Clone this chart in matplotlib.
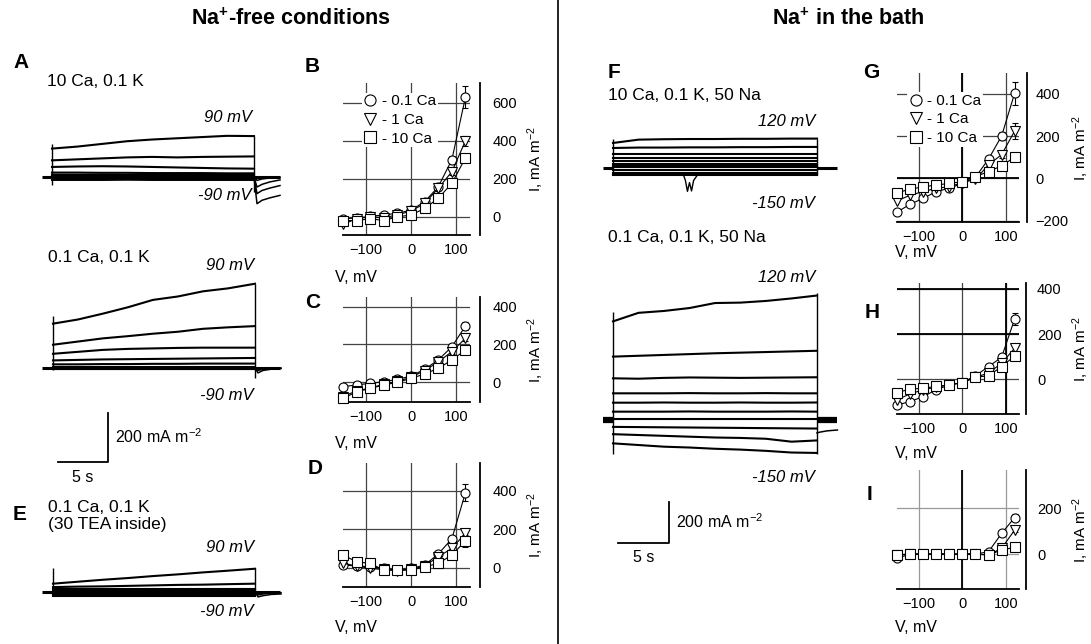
import numpy as np
import matplotlib
matplotlib.use("Agg")
import matplotlib.pyplot as plt
from matplotlib.lines import Line2D

plt.rcParams["font.family"] = ["Liberation Sans", "DejaVu Sans"]
plt.rcParams["mathtext.fontset"] = "custom"
plt.rcParams["mathtext.rm"] = "Liberation Sans"
plt.rcParams["mathtext.it"] = "Liberation Sans:italic"
plt.rcParams["mathtext.bf"] = "Liberation Sans:bold"
plt.rcParams["mathtext.default"] = "regular"

# ── 1. DATA ──────────────────────────────────────────────────────────────────
# I-V curves: test voltages (mV) and mean currents (mA m-2)
V = [-150, -120, -90, -60, -30, 0, 30, 60, 90, 120]

B_01 = [-10, -7, 2, 10, 18, 35, 79, 158, 300, 630]
B_1 = [-40, -10, 0, -5, 10, 30, 70, 150, 237, 400]
B_10 = [-20, -20, -10, -20, 0, 9, 44, 97, 176, 310]
B_ERR = [[0, 0, 0, 0, 0, 0, 0, 0, 20, 60], [0, 0, 0, 0, 0, 0, 0, 0, 15, 25],
         [0, 0, 0, 0, 0, 0, 0, 0, 0, 15]]

C_01 = [-23, -14, -5, 3, 16, 33, 69, 118, 188, 298]
C_1 = [-75, -45, -30, -10, 5, 27, 62, 108, 162, 233]
C_10 = [-85, -50, -32, -14, 0, 21, 44, 74, 118, 171]
C_ERR = [[0, 0, 0, 0, 0, 0, 0, 0, 12, 22], [0, 0, 0, 0, 0, 0, 0, 0, 10, 15],
         [0, 0, 0, 0, 0, 0, 0, 0, 0, 0]]

D_01 = [14, 9, 5, -4, -12, -4, 14, 71, 150, 390]
D_1 = [23, 9, -4, -9, -15, -9, 9, 57, 100, 179]
D_10 = [66, 31, 22, -12, -12, -12, 5, 22, 66, 139]
D_ERR = [[0, 0, 0, 0, 0, 0, 0, 0, 15, 42], [0, 0, 0, 0, 0, 0, 0, 0, 12, 20],
         [0, 0, 0, 0, 0, 0, 0, 0, 0, 30]]

G_01 = [-160, -123, -95, -63, -47, -24, 5, 91, 200, 403]
G_1 = [-107, -80, -63, -47, -40, -20, -5, 64, 112, 224]
G_10 = [-68, -52, -40, -32, -24, -16, 8, 32, 59, 100]
G_ERR = [[0, 0, 0, 0, 0, 0, 0, 0, 20, 55], [0, 0, 0, 0, 0, 0, 0, 0, 15, 40],
         [0, 0, 0, 0, 0, 0, 0, 0, 0, 8]]

H_01 = [-114, -99, -77, -47, -25, -15, 15, 56, 97, 267]
H_1 = [-91, -65, -47, -35, -25, -15, 9, 27, 71, 137]
H_10 = [-59, -44, -40, -32, -25, -15, 9, 15, 56, 103]
H_ERR = [[0, 0, 0, 0, 0, 0, 0, 0, 10, 25], [0, 0, 0, 0, 0, 0, 0, 0, 8, 15],
         [0, 0, 0, 0, 0, 0, 0, 0, 0, 8]]

I_01 = [-19, 0, 0, 0, 0, 0, 0, 10, 90, 160]
I_1 = [-4, 0, 0, 0, 0, 0, 0, -4, 25, 105]
I_10 = [-4, 0, 0, 0, 0, 0, 0, -4, 18, 29]
I_ERR = [[0, 0, 0, 0, 0, 0, 0, 0, 0, 15], [0, 0, 0, 0, 0, 0, 0, 0, 0, 8],
         [0, 0, 0, 0, 0, 0, 0, 0, 0, 0]]

LEGEND_LABELS = ["- 0.1 Ca", "- 1 Ca", "- 10 Ca"]

# Current traces: sample times during the 20 s step (s) and currents (mA m-2)
T_STEP = [0, 2.5, 5, 7.5, 10, 12.5, 15, 17.5, 20.2]
T_TAIL = [20.2, 20.5, 21.0, 21.8, 22.8]

A1_STEPS = [
    [116, 124, 135, 146, 153, 158, 163, 168, 167],
    [68, 72, 76, 80, 82, 80, 82, 83, 84],
    [41, 43, 44, 43, 41, 39, 37, 35, 34],
    [18, 18, 17, 17, 16, 16, 16, 15, 15],
    [9, 9, 9, 8, 9, 9, 8, 9, 9],
    [4, 4, 4, 4, 4, 4, 4, 4, 4],
    [-4, -4, -3, -4, -4, -4, -3, -4, -4],
    [-8, -8, -8, -8, -8, -8, -8, -8, -8],
    [-12, -12, -12, -11, -12, -12, -12, -12, -12],
]
A1_TAILS = [[0, -14, -8, -4, -2], [0, -41, -30, -20, -12],
            [0, -68, -55, -45, -35], [0, -109, -95, -85, -75]]
A1_EDGES = [[-33, 135], [-60, 168]]

A2_STEPS = [
    [181, 198, 222, 248, 278, 292, 313, 325, 344],
    [95, 108, 121, 130, 140, 148, 160, 166, 171],
    [58, 66, 74, 78, 80, 82, 83, 83, 83],
    [31, 33, 35, 36, 37, 38, 39, 40, 41],
    [15, 15, 16, 16, 17, 17, 18, 18, 18],
    [6, 6, 6, 6, 6, 6, 6, 6, 6],
    [2, 2, 2, 2, 2, 2, 2, 2, 2],
    [-3, -3, -3, -3, -3, -3, -3, -3, -3],
    [-6, -6, -6, -6, -6, -6, -6, -6, -6],
]
A2_TAILS = [[0, -20, -10, -5, -2], [0, -10, -5, -3, 0]]
A2_EDGES = [[-10, 212], [-41, 344]]

E_STEPS = [
    [34, 42, 50, 57, 65, 72, 80, 87, 95],
    [20, 22, 23, 25, 27, 29, 30, 32, 34],
    [12, 12, 12, 12, 12, 12, 12, 12, 12],
    [6, 6, 6, 6, 6, 6, 6, 6, 6],
    [2, 2, 2, 2, 2, 2, 2, 2, 2],
    [-4, -4, -4, -4, -4, -4, -4, -4, -4],
    [-8, -8, -8, -8, -8, -8, -8, -8, -8],
    [-12, -12, -12, -12, -12, -12, -12, -12, -12],
    [-16, -16, -16, -16, -16, -16, -16, -16, -16],
]
E_TAILS = [[0, -20, -15, -10, -8], [0, -12, -8, -5, -3]]
E_EDGES = [[0, 97], [-8, 97]]

T_STEP_F = [0, 2.5, 5, 7.5, 10, 12.5, 15, 17.5, 20]
T_TAIL_F = [20, 20.3, 21, 22]

F1_STEPS = [
    [120, 136, 138, 139, 139, 140, 140, 141, 141],
    [96, 98, 98, 99, 99, 100, 100, 101, 101],
    [67, 67, 67, 67, 67, 67, 67, 67, 67],
    [48, 48, 48, 48, 48, 48, 48, 48, 48],
    [32, 32, 32, 32, 32, 32, 32, 32, 32],
    [21, 21, 21, 21, 21, 21, 21, 21, 21],
    [11, 11, 11, 11, 11, 11, 11, 11, 11],
    [4, 4, 4, 4, 4, 4, 4, 4, 4],
    [-11, -11, -11, -11, -11, -11, -11, -11, -11],
    [-22, -22, -22, -22, -22, -22, -22, -22, -22],
    [-32, -32, -32, -32, -32, -32, -32, -32, -32],
]
F1_SPIKE_T = [6.9, 7.1, 7.3, 7.5, 7.7, 7.9, 8.3]
F1_SPIKE_I = [-32, -60, -112, -70, -110, -60, -32]
F1_EDGES = [[-25, 138], [-33, 141]]

F2_STEPS = [
    [473, 514, 523, 537, 561, 563, 571, 583, 597],
    [304, 308, 312, 316, 320, 323, 326, 329, 332],
    [200, 198, 202, 204, 203, 202, 203, 204, 205],
    [128, 128, 128, 129, 128, 128, 129, 128, 128],
    [83, 83, 84, 83, 83, 84, 83, 83, 84],
    [40, 40, 40, 41, 40, 40, 40, 41, 40],
    [6, 6, 6, 6, 6, 6, 6, 6, 6],
    [-33, -34, -35, -36, -37, -38, -39, -40, -41],
    [-68, -72, -76, -80, -84, -86, -90, -104, -98],
    [-112, -120, -128, -132, -138, -142, -148, -156, -158],
]
F2_TAILS = [[-62, -58, -52, -48]]
F2_EDGES = [[-162, 520], [-162, 610]]

# ── 2. FIGURE ────────────────────────────────────────────────────────────────
W, H = 1091, 644
fig = plt.figure(figsize=(W / 100, H / 100), dpi=100)


def box(x0, y0, x1, y1):
    return [x0 / W, 1 - y1 / H, (x1 - x0) / W, (y1 - y0) / H]


def ftext(x, y, s, **kw):
    kw.setdefault("fontsize", 12)
    kw.setdefault("va", "center")
    fig.text(x / W, 1 - y / H, s, **kw)


def trace_axes(x0, y0, x1, y1, ox, oy, sx, sy):
    # pixel box, pixel origin (t=0, I=0) and scale (px per s, px per mA m-2)
    ax = fig.add_axes(box(x0, y0, x1, y1))
    ax.set_xlim((x0 - ox) / sx, (x1 - ox) / sx)
    ax.set_ylim((oy - y1) / sy, (oy - y0) / sy)
    ax.axis("off")
    return ax


def draw_traces(ax, t, steps, t_tail, tails, edges, t_pre, t_post, lw_hold=2.2):
    ax.plot([t_pre, t[0]], [0, 0], color="k", lw=lw_hold, solid_capstyle="butt")
    ax.plot([t[-1], t_post], [0, 0], color="k", lw=lw_hold, solid_capstyle="butt")
    for s in steps:
        ax.plot(t, s, color="k", lw=1.5)
    for tl in tails:
        ax.plot(t_tail, tl, color="k", lw=1.1)
    ax.vlines([t[0], t[-1]], [edges[0][0], edges[1][0]], [edges[0][1], edges[1][1]],
              color="k", lw=1.0)


# separator and titles
fig.add_artist(Line2D([557.5 / W] * 2, [0, 1], color="k", lw=1.2))
ftext(291, 19, r"Na$^\mathbf{+}$-free conditions", fontsize=15.5, fontweight="bold", ha="center")
ftext(848, 19, r"Na$^\mathbf{+}$ in the bath", fontsize=15.5, fontweight="bold", ha="center")

# panel letters
for x, y, s in [(13, 63, "A"), (305, 67, "B"), (305, 303, "C"), (308, 468, "D"),
                (13, 514, "E"), (608, 72, "F"), (863, 72, "G"), (865, 312, "H"),
                (867, 495, "I")]:
    ftext(x, y, s, fontsize=15, fontweight="bold")

# ── 3. TRACE PANELS (LEFT) ───────────────────────────────────────────────────
SX_L, SY_L = 10.0, 49 / 200
ax = trace_axes(30, 120, 290, 215, 52, 177, SX_L, SY_L)
draw_traces(ax, T_STEP, A1_STEPS, T_TAIL, A1_TAILS, A1_EDGES, -1.0, 22.8)
ftext(47, 82, "10 Ca, 0.1 K", fontsize=12.5)
ftext(252, 118, "90 mV", fontsize=12, style="italic", ha="right")
ftext(252, 195, "-90 mV", fontsize=12, style="italic", ha="right")

ax = trace_axes(30, 270, 290, 490, 53, 368, SX_L, SY_L)
draw_traces(ax, T_STEP, A2_STEPS, T_TAIL, A2_TAILS, A2_EDGES, -1.1, 22.7)
# scale bar: 200 mA m-2, 5 s
ax.plot([0.5, 5.5, 5.5], [-384, -384, -184], color="k", lw=1.3)
ftext(48, 257, "0.1 Ca, 0.1 K", fontsize=12.5)
ftext(254, 265, "90 mV", fontsize=12, style="italic", ha="right")
ftext(254, 395, "-90 mV", fontsize=12, style="italic", ha="right")
ftext(115, 437, "200 mA m$^{-2}$", fontsize=11.5)
ftext(72, 477, "5 s", fontsize=11.5)

ax = trace_axes(30, 540, 290, 620, 53, 592, SX_L, SY_L)
draw_traces(ax, T_STEP, E_STEPS, T_TAIL, E_TAILS, E_EDGES, -1.1, 22.7)
ftext(48, 508, "0.1 Ca, 0.1 K", fontsize=12.5)
ftext(48, 524, "(30 TEA inside)", fontsize=12.5)
ftext(254, 548, "90 mV", fontsize=12, style="italic", ha="right")
ftext(254, 612, "-90 mV", fontsize=12, style="italic", ha="right")

# ── 4. TRACE PANELS (RIGHT) ──────────────────────────────────────────────────
SX_R, SY_R = 10.2, 41.7 / 200
ax = trace_axes(595, 125, 850, 200, 613, 168, SX_R, SY_R)
draw_traces(ax, T_STEP_F, F1_STEPS, T_TAIL_F, [], F1_EDGES, -1.0, 22.0)
ax.plot(F1_SPIKE_T, F1_SPIKE_I, color="k", lw=1.0)
ftext(608, 95, "10 Ca, 0.1 K, 50 Na", fontsize=12.5)
ftext(815, 122, "120 mV", fontsize=12, style="italic", ha="right")
ftext(815, 203, "-150 mV", fontsize=12, style="italic", ha="right")

ax = trace_axes(595, 285, 850, 560, 613, 420, SX_R, SY_R)
draw_traces(ax, T_STEP_F, F2_STEPS, T_TAIL_F, F2_TAILS, F2_EDGES, -1.0, 22.0, lw_hold=4.5)
ax.plot([0.5, 5.5, 5.5], [-591, -591, -391], color="k", lw=1.3)
ftext(608, 238, "0.1 Ca, 0.1 K, 50 Na", fontsize=12.5)
ftext(815, 277, "120 mV", fontsize=12, style="italic", ha="right")
ftext(815, 477, "-150 mV", fontsize=12, style="italic", ha="right")
ftext(676, 522, "200 mA m$^{-2}$", fontsize=11.5)
ftext(633, 557, "5 s", fontsize=11.5)

# ── 5. I-V PANELS ────────────────────────────────────────────────────────────
MARKERS = ["o", "v", "s"]


def iv_panel(rect, ylim, yticks, series, errs, grid_color="#444444", spine_off=7,
             legend_at=None, ytick_pad=9, ylab_pad=6, dark_v=(), dark_h=()):
    ax = fig.add_axes(box(*rect))
    ax.set_xlim(-150, 130)
    ax.set_ylim(ylim)
    ax.spines["top"].set_visible(False)
    ax.spines["left"].set_visible(False)
    ax.spines["right"].set_position(("outward", spine_off))
    ax.spines["right"].set_linewidth(1.3)
    ax.spines["bottom"].set_linewidth(1.3)
    ax.yaxis.tick_right()
    ax.set_xticks([-100, 0, 100])
    ax.set_yticks(yticks)
    ax.tick_params(length=0, labelsize=10.5)
    ax.tick_params(axis="y", pad=ytick_pad)
    ax.tick_params(axis="x", pad=6)
    ax.grid(True, color=grid_color, lw=0.9)
    ax.set_axisbelow(True)
    for xv in dark_v:
        ax.axvline(xv, color="k", lw=1.3, zorder=1)
    for yv in dark_h:
        ax.axhline(yv, color="k", lw=1.3, zorder=1)
    v = np.array(V, dtype=float)
    for vals, err, m in zip(series, errs, MARKERS):
        vals = np.array(vals, dtype=float)
        err = np.array(err, dtype=float)
        ok = err > 0
        ax.errorbar(v[ok], vals[ok], yerr=err[ok], fmt="none", ecolor="k",
                    elinewidth=0.8, capsize=2.5, capthick=0.8, zorder=3)
        ax.plot(v, vals, color="k", lw=0.8, marker=m, ms=6.5, mfc="white",
                mec="k", mew=0.8, zorder=4, clip_on=False)
    ax.yaxis.set_label_position("right")
    ax.set_ylabel("I, mA m$^{-2}$", fontsize=11, labelpad=ylab_pad)
    if legend_at is not None:
        handles = [Line2D([], [], ls="none", marker=m, ms=8, mfc="white", mec="k",
                          mew=0.8) for m in MARKERS]
        leg = ax.legend(handles, LEGEND_LABELS, loc="upper left", bbox_to_anchor=legend_at,
                        fontsize=11, frameon=True, framealpha=1, edgecolor="none",
                        facecolor="white", borderpad=0.1, labelspacing=0.3,
                        handlelength=0.9, handletextpad=0.3, borderaxespad=0)
        leg.set_zorder(5)
        leg.get_frame().set_linewidth(0)
    return ax


iv_panel((343, 83, 470, 235), (-96, 704), [0, 200, 400, 600],
         [B_01, B_1, B_10], B_ERR, legend_at=(0.15, 0.935))
ftext(335, 278, "V, mV", fontsize=11.5)

iv_panel((343, 297, 470, 402), (-104, 451), [0, 200, 400],
         [C_01, C_1, C_10], C_ERR)
ftext(335, 443, "V, mV", fontsize=11.5)

iv_panel((343, 463, 470, 587), (-100, 543), [0, 200, 400],
         [D_01, D_1, D_10], D_ERR)
ftext(335, 628, "V, mV", fontsize=11.5)

iv_panel((897, 73, 1019, 222), (-207, 499), [-200, 0, 200, 400],
         [G_01, G_1, G_10], G_ERR, spine_off=6, legend_at=(0.085, 0.87),
         ytick_pad=6, ylab_pad=1, dark_v=[0], dark_h=[0])
ftext(895, 253, "V, mV", fontsize=11.5)

iv_panel((897, 283, 1019, 414), (-154, 426), [0, 200, 400],
         [H_01, H_1, H_10], H_ERR, spine_off=5, ytick_pad=8, ylab_pad=6,
         dark_v=[100], dark_h=[200, 400])
ftext(895, 453, "V, mV", fontsize=11.5)

iv_panel((897, 470, 1019, 589), (-153, 368), [0, 200],
         [I_01, I_1, I_10], I_ERR, grid_color="#999999", spine_off=5,
         ytick_pad=8, ylab_pad=6, dark_v=[0])
ftext(895, 627, "V, mV", fontsize=11.5)

plt.savefig("out.png", dpi=100)
